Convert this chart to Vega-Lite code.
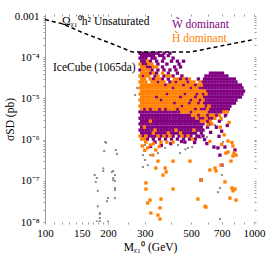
{
"$schema":"https://vega.github.io/schema/vega-lite/v6.json",
"width":209,"height":206,
"autosize":{"type":"none"},
"padding":{"left":45,"top":16,"right":12,"bottom":34},
"background":"white",
"config":{"view":{"stroke":null},"font":"Liberation Serif","axis":{"labelFont":"Liberation Serif","titleFont":"Liberation Serif","labelFontSize":11,"titleFontSize":11.5,"labelColor":"black","titleColor":"black","grid":false,"titleFontWeight":"normal"}},
"resolve":{"axis":{"x":"independent","y":"independent"}},
"datasets":{
"other":[{"m":196,"s":8.4e-7},{"m":192,"s":5.3e-7},{"m":218,"s":5.6e-7},{"m":221,"s":4.5e-7},{"m":173,"s":1.38e-7},{"m":177,"s":1.17e-7},{"m":190,"s":1.73e-7},{"m":212,"s":1.73e-7},{"m":216,"s":1.38e-7},{"m":212,"s":1.17e-7},{"m":216,"s":9.9e-8},{"m":179,"s":5.7e-8},{"m":179,"s":2.4e-8},{"m":183,"s":1.56e-8},{"m":183,"s":1.25e-8},{"m":183,"s":1.05e-8},{"m":198,"s":3.2e-8},{"m":216,"s":6.0e-8},{"m":216,"s":3.8e-8},{"m":177,"s":1.02e-8},{"m":200,"s":1.02e-8},{"m":194,"s":8.7e-7},{"m":190,"s":2.0e-7},{"m":209,"s":1.64e-7},{"m":212,"s":1.05e-7},{"m":216,"s":6.7e-8},{"m":175,"s":9.4e-8},{"m":200,"s":3.8e-8},{"m":183,"s":1.65e-8},{"m":276,"s":1.79e-5},{"m":270,"s":1.21e-5},{"m":301,"s":8.7e-7},{"m":301,"s":7.4e-7},{"m":294,"s":4.2e-7},{"m":318,"s":4.2e-7},{"m":301,"s":3.2e-7},{"m":310,"s":2.4e-7},{"m":294,"s":2.16e-7},{"m":347,"s":4.7e-7},{"m":376,"s":6.3e-7},{"m":310,"s":1.16e-6},{"m":687,"s":6.2e-6},{"m":751,"s":4.68e-6},{"m":726,"s":3.54e-6},{"m":651,"s":2.26e-6},{"m":664,"s":1.91e-6},{"m":595,"s":1.16e-6},{"m":552,"s":1.09e-6},{"m":433,"s":7.4e-7},{"m":483,"s":6.3e-7},{"m":470,"s":5.8e-7},{"m":506,"s":6.6e-7},{"m":442,"s":4.7e-7},{"m":710,"s":8.7e-7},{"m":702,"s":1.38e-7},{"m":687,"s":6.7e-8},{"m":672,"s":5.3e-8},{"m":687,"s":1.18e-8},{"m":740,"s":4.0e-6},{"m":700,"s":3.0e-6}],
"W":[
{"m":285,"s":1.25e-4},{"m":290,"s":1.1e-4},{"m":285,"s":9.5e-5},{"m":290,"s":8e-5},{"m":285,"s":4.9e-5},{"m":285,"s":4.7e-6},{"m":290,"s":3.9e-6},{"m":285,"s":3.3e-6},{"m":290,"s":2.8e-6},{"m":285,"s":2.4e-6},{"m":290,"s":2e-6},{"m":285,"s":1.7e-6},{"m":290,"s":1.44e-6},
{"m":294,"s":1.25e-4},{"m":299,"s":1.1e-4},{"m":294,"s":9.5e-5},{"m":299,"s":8e-5},{"m":294,"s":6.8e-5},{"m":294,"s":3.5e-5},{"m":299,"s":5.5e-6},{"m":294,"s":4.7e-6},{"m":299,"s":3.9e-6},{"m":294,"s":3.3e-6},{"m":299,"s":2.8e-6},{"m":294,"s":2.4e-6},{"m":294,"s":1.7e-6},{"m":299,"s":1.44e-6},{"m":294,"s":1.22e-6},
{"m":304,"s":1.25e-4},{"m":309,"s":1.1e-4},{"m":304,"s":9.5e-5},{"m":304,"s":6.8e-5},{"m":309,"s":5.8e-5},{"m":304,"s":4.7e-6},{"m":309,"s":3.9e-6},{"m":304,"s":3.3e-6},{"m":309,"s":2.8e-6},{"m":304,"s":2.4e-6},{"m":309,"s":2e-6},{"m":304,"s":1.7e-6},{"m":309,"s":1.44e-6},{"m":309,"s":1.03e-6},
{"m":314,"s":1.25e-4},{"m":319,"s":1.1e-4},{"m":319,"s":8e-5},{"m":319,"s":5.8e-5},{"m":319,"s":4.1e-5},{"m":319,"s":5.5e-6},{"m":314,"s":4.7e-6},{"m":319,"s":3.9e-6},{"m":314,"s":3.3e-6},{"m":314,"s":2.4e-6},{"m":319,"s":2e-6},{"m":314,"s":1.7e-6},{"m":319,"s":1.44e-6},{"m":314,"s":1.22e-6},
{"m":325,"s":1.25e-4},{"m":330,"s":1.1e-4},{"m":325,"s":9.5e-5},{"m":325,"s":4.9e-5},{"m":330,"s":2.95e-5},{"m":325,"s":4.7e-6},{"m":330,"s":3.9e-6},{"m":325,"s":3.3e-6},{"m":330,"s":2.8e-6},{"m":325,"s":2.4e-6},{"m":330,"s":2e-6},{"m":325,"s":1.7e-6},{"m":325,"s":1.22e-6},{"m":330,"s":1.03e-6},
{"m":336,"s":1.25e-4},{"m":336,"s":9.5e-5},{"m":342,"s":8e-5},{"m":342,"s":4.1e-5},{"m":336,"s":3.5e-5},{"m":342,"s":1.08e-5},{"m":336,"s":4.7e-6},{"m":342,"s":3.9e-6},{"m":336,"s":3.3e-6},{"m":342,"s":2.8e-6},{"m":336,"s":2.4e-6},{"m":342,"s":2e-6},{"m":342,"s":1.44e-6},{"m":336,"s":1.22e-6},{"m":336,"s":8.7e-7},
{"m":347,"s":1.25e-4},{"m":353,"s":1.1e-4},{"m":347,"s":6.8e-5},{"m":347,"s":4.9e-5},{"m":347,"s":2.5e-5},{"m":353,"s":5.5e-6},{"m":347,"s":4.7e-6},{"m":353,"s":3.9e-6},{"m":347,"s":3.3e-6},{"m":353,"s":2.8e-6},{"m":347,"s":2.4e-6},{"m":353,"s":2e-6},{"m":347,"s":1.7e-6},{"m":353,"s":1.44e-6},{"m":353,"s":1.03e-6},
{"m":365,"s":1.1e-4},{"m":365,"s":8e-5},{"m":365,"s":5.8e-5},{"m":365,"s":2.95e-5},{"m":359,"s":9.1e-6},{"m":359,"s":4.7e-6},{"m":365,"s":3.9e-6},{"m":359,"s":3.3e-6},{"m":365,"s":2.8e-6},{"m":359,"s":2.4e-6},{"m":365,"s":2e-6},{"m":359,"s":1.7e-6},{"m":365,"s":1.44e-6},{"m":359,"s":1.22e-6},
{"m":371,"s":1.25e-4},{"m":371,"s":9.5e-5},{"m":371,"s":4.9e-5},{"m":371,"s":3.5e-5},{"m":377,"s":2.1e-5},{"m":377,"s":5.5e-6},{"m":371,"s":4.7e-6},{"m":377,"s":3.9e-6},{"m":371,"s":3.3e-6},{"m":377,"s":2.8e-6},{"m":371,"s":2.4e-6},{"m":377,"s":2e-6},{"m":371,"s":1.7e-6},{"m":377,"s":1.44e-6},{"m":377,"s":1.03e-6},
{"m":389,"s":1.1e-4},{"m":383,"s":6.8e-5},{"m":389,"s":4.1e-5},{"m":389,"s":2.95e-5},{"m":383,"s":1.28e-5},{"m":383,"s":4.7e-6},{"m":389,"s":3.9e-6},{"m":383,"s":3.3e-6},{"m":389,"s":2.8e-6},{"m":383,"s":2.4e-6},{"m":389,"s":2e-6},{"m":383,"s":1.7e-6},{"m":383,"s":1.22e-6},
{"m":396,"s":1.25e-4},{"m":403,"s":8e-5},{"m":396,"s":4.9e-5},{"m":396,"s":2.5e-5},{"m":396,"s":4.7e-6},{"m":403,"s":3.9e-6},{"m":396,"s":3.3e-6},{"m":403,"s":2.8e-6},{"m":396,"s":2.4e-6},{"m":403,"s":2e-6},{"m":396,"s":1.7e-6},{"m":403,"s":1.44e-6},{"m":403,"s":1.03e-6},
{"m":410,"s":9.5e-5},{"m":417,"s":5.8e-5},{"m":410,"s":3.5e-5},{"m":410,"s":1.8e-5},{"m":417,"s":7.7e-6},{"m":410,"s":4.7e-6},{"m":417,"s":3.9e-6},{"m":410,"s":3.3e-6},{"m":417,"s":2.8e-6},{"m":410,"s":2.4e-6},{"m":417,"s":2e-6},{"m":410,"s":1.7e-6},{"m":417,"s":1.44e-6},{"m":410,"s":1.22e-6},
{"m":430,"s":8e-5},{"m":423,"s":4.9e-5},{"m":430,"s":4.1e-5},{"m":423,"s":2.5e-5},{"m":430,"s":5.5e-6},{"m":423,"s":4.7e-6},{"m":430,"s":3.9e-6},{"m":423,"s":3.3e-6},{"m":430,"s":2.8e-6},{"m":423,"s":2.4e-6},{"m":430,"s":2e-6},{"m":430,"s":1.44e-6},{"m":430,"s":1.03e-6},
{"m":438,"s":6.8e-5},{"m":445,"s":5.8e-5},{"m":445,"s":2.95e-5},{"m":445,"s":1.08e-5},{"m":438,"s":4.7e-6},{"m":445,"s":3.9e-6},{"m":438,"s":3.3e-6},{"m":445,"s":2.8e-6},{"m":438,"s":2.4e-6},{"m":445,"s":2e-6},{"m":438,"s":1.7e-6},{"m":438,"s":1.22e-6},
{"m":460,"s":8e-5},{"m":452,"s":3.5e-5},{"m":460,"s":2.1e-5},{"m":452,"s":6.5e-6},{"m":460,"s":3.9e-6},{"m":452,"s":3.3e-6},{"m":460,"s":2.8e-6},{"m":452,"s":2.4e-6},{"m":460,"s":2e-6},{"m":452,"s":1.7e-6},{"m":460,"s":1.44e-6},{"m":460,"s":1.03e-6},
{"m":475,"s":2.95e-5},{"m":467,"s":1.28e-5},{"m":475,"s":3.9e-6},{"m":467,"s":3.3e-6},{"m":475,"s":2.8e-6},{"m":467,"s":2.4e-6},{"m":475,"s":2e-6},{"m":467,"s":1.7e-6},{"m":475,"s":1.44e-6},{"m":467,"s":1.22e-6},{"m":467,"s":8.7e-7},
{"m":483,"s":2.5e-5},{"m":491,"s":7.7e-6},{"m":491,"s":3.9e-6},{"m":483,"s":3.3e-6},{"m":491,"s":2.8e-6},{"m":483,"s":2.4e-6},{"m":491,"s":2e-6},{"m":483,"s":1.7e-6},{"m":491,"s":1.44e-6},{"m":491,"s":1.03e-6},
{"m":499,"s":1.8e-5},{"m":499,"s":9.1e-6},{"m":499,"s":4.7e-6},{"m":499,"s":3.3e-6},{"m":507,"s":2.8e-6},{"m":499,"s":2.4e-6},{"m":507,"s":2e-6},{"m":499,"s":1.7e-6},{"m":507,"s":1.44e-6},{"m":499,"s":1.22e-6},
{"m":525,"s":2.1e-5},{"m":525,"s":1.08e-5},{"m":525,"s":5.5e-6},{"m":516,"s":3.3e-6},{"m":525,"s":2.8e-6},{"m":516,"s":2.4e-6},{"m":525,"s":2e-6},{"m":525,"s":1.44e-6},{"m":525,"s":1.03e-6},
{"m":542,"s":2.95e-5},{"m":533,"s":1.28e-5},{"m":542,"s":7.7e-6},{"m":542,"s":3.9e-6},{"m":542,"s":2.8e-6},{"m":533,"s":2.4e-6},{"m":542,"s":2e-6},{"m":533,"s":1.7e-6},{"m":533,"s":1.22e-6},
{"m":551,"s":1.8e-5},{"m":551,"s":9.1e-6},{"m":560,"s":5.5e-6},{"m":551,"s":3.3e-6},{"m":551,"s":2.4e-6},{"m":560,"s":2e-6},{"m":551,"s":1.7e-6},{"m":560,"s":1.44e-6},
{"m":580,"s":2.95e-5},{"m":570,"s":2.5e-5},{"m":580,"s":2.1e-5},{"m":570,"s":1.8e-5},{"m":570,"s":1.28e-5},{"m":580,"s":1.08e-5},{"m":580,"s":7.7e-6},{"m":580,"s":5.5e-6},{"m":570,"s":3.3e-6},{"m":570,"s":2.4e-6},{"m":570,"s":1.7e-6},{"m":570,"s":1.22e-6},
{"m":589,"s":3.5e-5},{"m":599,"s":2.95e-5},{"m":589,"s":2.5e-5},{"m":599,"s":2.1e-5},{"m":589,"s":1.8e-5},{"m":599,"s":1.5e-5},{"m":599,"s":1.08e-5},{"m":589,"s":9.1e-6},{"m":599,"s":7.7e-6},{"m":589,"s":6.5e-6},{"m":599,"s":3.9e-6},{"m":599,"s":2.8e-6},{"m":599,"s":2e-6},
{"m":619,"s":4.1e-5},{"m":609,"s":3.5e-5},{"m":619,"s":2.95e-5},{"m":609,"s":2.5e-5},{"m":619,"s":2.1e-5},{"m":609,"s":1.8e-5},{"m":619,"s":1.5e-5},{"m":609,"s":1.28e-5},{"m":619,"s":1.08e-5},{"m":609,"s":9.1e-6},{"m":619,"s":7.7e-6},{"m":619,"s":5.5e-6},{"m":609,"s":4.7e-6},{"m":609,"s":3.3e-6},{"m":609,"s":2.4e-6},
{"m":640,"s":4.1e-5},{"m":629,"s":3.5e-5},{"m":640,"s":2.95e-5},{"m":629,"s":2.5e-5},{"m":640,"s":2.1e-5},{"m":629,"s":1.8e-5},{"m":640,"s":1.5e-5},{"m":629,"s":1.28e-5},{"m":640,"s":1.08e-5},{"m":629,"s":9.1e-6},{"m":640,"s":7.7e-6},{"m":629,"s":6.5e-6},{"m":640,"s":5.5e-6},{"m":629,"s":4.7e-6},{"m":629,"s":3.3e-6},
{"m":661,"s":4.1e-5},{"m":650,"s":3.5e-5},{"m":661,"s":2.95e-5},{"m":650,"s":2.5e-5},{"m":661,"s":2.1e-5},{"m":650,"s":1.8e-5},{"m":661,"s":1.5e-5},{"m":650,"s":1.28e-5},{"m":661,"s":1.08e-5},{"m":650,"s":9.1e-6},{"m":661,"s":7.7e-6},{"m":650,"s":6.5e-6},{"m":661,"s":5.5e-6},{"m":650,"s":4.7e-6},{"m":661,"s":3.9e-6},
{"m":683,"s":4.1e-5},{"m":672,"s":3.5e-5},{"m":683,"s":2.95e-5},{"m":672,"s":2.5e-5},{"m":683,"s":2.1e-5},{"m":672,"s":1.8e-5},{"m":683,"s":1.5e-5},{"m":672,"s":1.28e-5},{"m":683,"s":1.08e-5},{"m":672,"s":9.1e-6},{"m":683,"s":7.7e-6},{"m":672,"s":6.5e-6},{"m":683,"s":5.5e-6},{"m":672,"s":4.7e-6},{"m":683,"s":2.8e-6},
{"m":707,"s":4.1e-5},{"m":695,"s":3.5e-5},{"m":707,"s":2.95e-5},{"m":695,"s":2.5e-5},{"m":707,"s":2.1e-5},{"m":695,"s":1.8e-5},{"m":707,"s":1.5e-5},{"m":695,"s":1.28e-5},{"m":707,"s":1.08e-5},{"m":695,"s":9.1e-6},{"m":707,"s":7.7e-6},{"m":695,"s":6.5e-6},{"m":707,"s":5.5e-6},{"m":695,"s":4.7e-6},
{"m":718,"s":3.5e-5},{"m":730,"s":2.95e-5},{"m":718,"s":2.5e-5},{"m":730,"s":2.1e-5},{"m":718,"s":1.8e-5},{"m":730,"s":1.5e-5},{"m":718,"s":1.28e-5},{"m":730,"s":1.08e-5},{"m":718,"s":9.1e-6},{"m":730,"s":7.7e-6},{"m":718,"s":6.5e-6},{"m":730,"s":5.5e-6},{"m":730,"s":3.9e-6},
{"m":742,"s":3.5e-5},{"m":754,"s":2.95e-5},{"m":742,"s":2.5e-5},{"m":754,"s":2.1e-5},{"m":742,"s":1.8e-5},{"m":754,"s":1.5e-5},{"m":742,"s":1.28e-5},{"m":754,"s":1.08e-5},{"m":742,"s":9.1e-6},{"m":754,"s":7.7e-6},{"m":742,"s":6.5e-6},{"m":754,"s":5.5e-6},
{"m":780,"s":2.95e-5},{"m":767,"s":2.5e-5},{"m":780,"s":2.1e-5},{"m":767,"s":1.8e-5},{"m":780,"s":1.5e-5},{"m":767,"s":1.28e-5},{"m":780,"s":1.08e-5},{"m":767,"s":9.1e-6},{"m":780,"s":7.7e-6},{"m":767,"s":6.5e-6},
{"m":806,"s":2.95e-5},{"m":793,"s":2.5e-5},{"m":806,"s":2.1e-5},{"m":793,"s":1.8e-5},{"m":806,"s":1.5e-5},{"m":793,"s":1.28e-5},{"m":806,"s":1.08e-5},{"m":793,"s":9.1e-6},{"m":806,"s":7.7e-6},
{"m":820,"s":2.5e-5},{"m":834,"s":2.1e-5},{"m":820,"s":1.8e-5},{"m":834,"s":1.5e-5},{"m":820,"s":1.28e-5},{"m":834,"s":1.08e-5},{"m":820,"s":9.1e-6},
{"m":861,"s":2.1e-5},{"m":847,"s":1.8e-5},{"m":861,"s":1.5e-5},{"m":847,"s":1.28e-5},{"m":861,"s":1.08e-5},
{"m":876,"s":1.8e-5},{"m":891,"s":1.5e-5},{"m":876,"s":1.28e-5},
{"m":687,"s":4.2e-7},{"m":702,"s":2.4e-7},{"m":643,"s":6.6e-7},{"m":672,"s":6.3e-7},{"m":726,"s":6.6e-7},{"m":811,"s":5.6e-7},{"m":558,"s":1.05e-7},{"m":595,"s":8e-7},{"m":660,"s":2.0e-6},{"m":700,"s":1.6e-6},{"m":745,"s":2.2e-6},{"m":620,"s":1.5e-6},{"m":680,"s":1.2e-6},{"m":580,"s":1.0e-6},{"m":545,"s":1.2e-6},{"m":520,"s":8.5e-7},{"m":320,"s":6.8e-7},{"m":360,"s":7.2e-7},{"m":400,"s":8.0e-7},{"m":450,"s":9.0e-7}
],
"H":[
{"m":285,"s":6.8e-5},{"m":290,"s":5.8e-5},{"m":290,"s":4.1e-5},{"m":285,"s":3.5e-5},{"m":290,"s":2.95e-5},{"m":285,"s":2.5e-5},{"m":290,"s":2.1e-5},{"m":285,"s":1.8e-5},{"m":290,"s":1.5e-5},{"m":285,"s":1.28e-5},{"m":290,"s":1.08e-5},{"m":285,"s":9.1e-6},{"m":290,"s":7.7e-6},{"m":285,"s":6.5e-6},{"m":290,"s":5.5e-6},{"m":285,"s":1.22e-6},{"m":290,"s":1.03e-6},
{"m":299,"s":5.8e-5},{"m":294,"s":4.9e-5},{"m":299,"s":4.1e-5},{"m":299,"s":2.95e-5},{"m":294,"s":2.5e-5},{"m":299,"s":2.1e-5},{"m":294,"s":1.8e-5},{"m":299,"s":1.5e-5},{"m":294,"s":1.28e-5},{"m":299,"s":1.08e-5},{"m":294,"s":9.1e-6},{"m":299,"s":7.7e-6},{"m":294,"s":6.5e-6},{"m":299,"s":2e-6},{"m":299,"s":1.03e-6},
{"m":309,"s":8e-5},{"m":304,"s":4.9e-5},{"m":309,"s":4.1e-5},{"m":304,"s":3.5e-5},{"m":304,"s":2.5e-5},{"m":309,"s":2.1e-5},{"m":304,"s":1.8e-5},{"m":309,"s":1.5e-5},{"m":304,"s":1.28e-5},{"m":309,"s":1.08e-5},{"m":304,"s":9.1e-6},{"m":309,"s":7.7e-6},{"m":304,"s":6.5e-6},{"m":309,"s":5.5e-6},{"m":304,"s":1.22e-6},{"m":304,"s":8.7e-7},
{"m":314,"s":6.8e-5},{"m":314,"s":4.9e-5},{"m":314,"s":3.5e-5},{"m":319,"s":2.95e-5},{"m":319,"s":2.1e-5},{"m":314,"s":1.8e-5},{"m":319,"s":1.5e-5},{"m":314,"s":1.28e-5},{"m":319,"s":1.08e-5},{"m":314,"s":9.1e-6},{"m":319,"s":7.7e-6},{"m":314,"s":6.5e-6},{"m":319,"s":2.8e-6},{"m":319,"s":7.4e-7},
{"m":325,"s":6.8e-5},{"m":330,"s":5.8e-5},{"m":330,"s":4.1e-5},{"m":325,"s":2.5e-5},{"m":330,"s":2.1e-5},{"m":325,"s":1.8e-5},{"m":330,"s":1.5e-5},{"m":325,"s":1.28e-5},{"m":330,"s":1.08e-5},{"m":325,"s":9.1e-6},{"m":330,"s":7.7e-6},{"m":325,"s":6.5e-6},{"m":330,"s":5.5e-6},{"m":330,"s":1.44e-6},
{"m":342,"s":5.8e-5},{"m":342,"s":2.95e-5},{"m":336,"s":2.5e-5},{"m":342,"s":2.1e-5},{"m":336,"s":1.8e-5},{"m":342,"s":1.5e-5},{"m":336,"s":1.28e-5},{"m":336,"s":9.1e-6},{"m":342,"s":7.7e-6},{"m":336,"s":6.5e-6},{"m":342,"s":5.5e-6},{"m":336,"s":1.7e-6},
{"m":347,"s":3.5e-5},{"m":353,"s":2.95e-5},{"m":353,"s":2.1e-5},{"m":347,"s":1.8e-5},{"m":353,"s":1.5e-5},{"m":347,"s":1.28e-5},{"m":353,"s":1.08e-5},{"m":347,"s":9.1e-6},{"m":353,"s":7.7e-6},{"m":347,"s":6.5e-6},{"m":347,"s":1.22e-6},
{"m":365,"s":4.1e-5},{"m":359,"s":2.5e-5},{"m":365,"s":2.1e-5},{"m":359,"s":1.8e-5},{"m":365,"s":1.5e-5},{"m":359,"s":1.28e-5},{"m":365,"s":1.08e-5},{"m":365,"s":7.7e-6},{"m":359,"s":6.5e-6},{"m":365,"s":5.5e-6},{"m":359,"s":8.7e-7},
{"m":371,"s":2.5e-5},{"m":371,"s":1.8e-5},{"m":377,"s":1.5e-5},{"m":371,"s":1.28e-5},{"m":377,"s":1.08e-5},{"m":371,"s":9.1e-6},{"m":377,"s":7.7e-6},{"m":371,"s":6.5e-6},{"m":371,"s":1.22e-6},
{"m":383,"s":3.5e-5},{"m":389,"s":2.1e-5},{"m":383,"s":1.8e-5},{"m":389,"s":1.5e-5},{"m":389,"s":1.08e-5},{"m":383,"s":9.1e-6},{"m":389,"s":7.7e-6},{"m":383,"s":6.5e-6},{"m":389,"s":5.5e-6},{"m":389,"s":1.44e-6},{"m":383,"s":8.7e-7},
{"m":396,"s":3.5e-5},{"m":403,"s":2.1e-5},{"m":396,"s":1.8e-5},{"m":403,"s":1.5e-5},{"m":396,"s":1.28e-5},{"m":403,"s":1.08e-5},{"m":396,"s":9.1e-6},{"m":403,"s":7.7e-6},{"m":396,"s":6.5e-6},{"m":403,"s":5.5e-6},{"m":396,"s":1.22e-6},
{"m":417,"s":2.95e-5},{"m":410,"s":2.5e-5},{"m":417,"s":2.1e-5},{"m":417,"s":1.5e-5},{"m":410,"s":1.28e-5},{"m":417,"s":1.08e-5},{"m":410,"s":9.1e-6},{"m":410,"s":6.5e-6},{"m":417,"s":5.5e-6},{"m":410,"s":8.7e-7},
{"m":430,"s":2.95e-5},{"m":430,"s":2.1e-5},{"m":423,"s":1.8e-5},{"m":430,"s":1.5e-5},{"m":423,"s":1.28e-5},{"m":430,"s":1.08e-5},{"m":423,"s":9.1e-6},{"m":430,"s":7.7e-6},{"m":423,"s":6.5e-6},{"m":423,"s":1.7e-6},
{"m":438,"s":2.5e-5},{"m":445,"s":2.1e-5},{"m":438,"s":1.8e-5},{"m":445,"s":1.5e-5},{"m":438,"s":1.28e-5},{"m":438,"s":9.1e-6},{"m":445,"s":7.7e-6},{"m":438,"s":6.5e-6},{"m":445,"s":5.5e-6},{"m":445,"s":1.44e-6},
{"m":460,"s":2.95e-5},{"m":452,"s":2.5e-5},{"m":452,"s":1.8e-5},{"m":460,"s":1.5e-5},{"m":452,"s":1.28e-5},{"m":460,"s":1.08e-5},{"m":452,"s":9.1e-6},{"m":460,"s":7.7e-6},{"m":460,"s":5.5e-6},{"m":452,"s":4.7e-6},{"m":452,"s":1.22e-6},
{"m":467,"s":2.5e-5},{"m":475,"s":2.1e-5},{"m":467,"s":1.8e-5},{"m":475,"s":1.5e-5},{"m":475,"s":1.08e-5},{"m":467,"s":9.1e-6},{"m":475,"s":7.7e-6},{"m":467,"s":6.5e-6},{"m":475,"s":5.5e-6},{"m":467,"s":4.7e-6},
{"m":491,"s":2.95e-5},{"m":491,"s":2.1e-5},{"m":483,"s":1.8e-5},{"m":491,"s":1.5e-5},{"m":483,"s":1.28e-5},{"m":491,"s":1.08e-5},{"m":483,"s":9.1e-6},{"m":483,"s":6.5e-6},{"m":491,"s":5.5e-6},{"m":483,"s":4.7e-6},{"m":483,"s":1.22e-6},
{"m":499,"s":2.5e-5},{"m":507,"s":2.1e-5},{"m":507,"s":1.5e-5},{"m":499,"s":1.28e-5},{"m":507,"s":1.08e-5},{"m":507,"s":7.7e-6},{"m":499,"s":6.5e-6},{"m":507,"s":5.5e-6},{"m":507,"s":3.9e-6},{"m":507,"s":1.03e-6},
{"m":516,"s":2.5e-5},{"m":516,"s":1.8e-5},{"m":525,"s":1.5e-5},{"m":516,"s":1.28e-5},{"m":516,"s":9.1e-6},{"m":525,"s":7.7e-6},{"m":516,"s":6.5e-6},{"m":516,"s":4.7e-6},{"m":525,"s":3.9e-6},{"m":516,"s":1.7e-6},
{"m":542,"s":2.1e-5},{"m":533,"s":1.8e-5},{"m":542,"s":1.5e-5},{"m":542,"s":1.08e-5},{"m":533,"s":9.1e-6},{"m":533,"s":6.5e-6},{"m":542,"s":5.5e-6},{"m":533,"s":4.7e-6},{"m":533,"s":3.3e-6},
{"m":551,"s":2.5e-5},{"m":560,"s":2.1e-5},{"m":560,"s":1.5e-5},{"m":551,"s":1.28e-5},{"m":560,"s":1.08e-5},{"m":560,"s":7.7e-6},{"m":551,"s":6.5e-6},{"m":551,"s":4.7e-6},{"m":560,"s":3.9e-6},{"m":560,"s":2.8e-6},
{"m":580,"s":1.5e-5},{"m":570,"s":9.1e-6},{"m":570,"s":6.5e-6},{"m":570,"s":4.7e-6},{"m":580,"s":3.9e-6},{"m":580,"s":2.8e-6},
{"m":589,"s":1.28e-5},{"m":599,"s":5.5e-6},{"m":589,"s":4.7e-6},{"m":589,"s":3.3e-6},
{"m":609,"s":6.5e-6},{"m":619,"s":3.9e-6},{"m":619,"s":2.8e-6},
{"m":640,"s":3.9e-6},{"m":629,"s":2.4e-6},{"m":650,"s":3.3e-6},{"m":683,"s":3.9e-6},{"m":695,"s":3.3e-6},{"m":718,"s":4.7e-6},{"m":742,"s":4.7e-6},
{"m":310,"s":6.3e-7},{"m":339,"s":5.6e-7},{"m":328,"s":4.2e-7},{"m":347,"s":3.0e-7},{"m":339,"s":2.04e-7},{"m":376,"s":2.04e-7},{"m":380,"s":1.64e-7},{"m":410,"s":3.0e-7},{"m":367,"s":1.38e-7},{"m":304,"s":8.9e-8},{"m":304,"s":6.3e-8},{"m":410,"s":6.3e-8},{"m":359,"s":3.6e-8},{"m":318,"s":3.4e-8},{"m":310,"s":2.9e-8},{"m":355,"s":2.2e-8},{"m":321,"s":1.65e-8},{"m":355,"s":1.18e-8},{"m":347,"s":1.47e-8},{"m":494,"s":3.0e-7},{"m":558,"s":1.05e-7},{"m":539,"s":3.6e-8},{"m":583,"s":2.4e-8},{"m":615,"s":1.83e-7},{"m":651,"s":2.04e-7},{"m":658,"s":1.73e-7},{"m":695,"s":2.4e-7},{"m":734,"s":4.7e-7},{"m":776,"s":3.0e-7},{"m":793,"s":4.0e-7},{"m":784,"s":6.7e-8},{"m":793,"s":5.7e-8},{"m":811,"s":6.3e-8},{"m":820,"s":3.4e-8},{"m":767,"s":3.8e-8},{"m":793,"s":7.0e-7},{"m":751,"s":9.2e-7},{"m":589,"s":2.3e-8},{"m":726,"s":9.4e-8},{"m":802,"s":4.7e-7},{"m":820,"s":4.2e-7},{"m":751,"s":5.0e-7},{"m":292,"s":7.0e-7},{"m":330,"s":8.0e-7},{"m":352,"s":6.8e-7},{"m":300,"s":5.5e-7},{"m":600,"s":2.3e-6},{"m":690,"s":2.0e-6},{"m":760,"s":2.6e-6},{"m":720,"s":1.3e-6},{"m":615,"s":9.0e-7},{"m":700,"s":7.6e-7},{"m":785,"s":8.5e-7}
],
"limit":[{"m":100,"s":8.2e-4},{"m":122,"s":6.4e-4},{"m":152,"s":3.9e-4},{"m":205,"s":2.2e-4},{"m":261,"s":1.34e-4},{"m":500,"s":1.34e-4},{"m":1000,"s":2.7e-4}],
"lab_omega":[{"m":120.6,"s":7.15e-4,"label":"Ωᵪ₁⁰h² Unsaturated"}],
"lab_ice":[{"m":109.2,"s":5.5e-5,"label":"IceCube (1065da)"}],
"lab_w":[{"m":405,"s":6.0e-4,"label":"W̃ dominant"}],
"lab_h":[{"m":405,"s":2.7e-4,"label":"H̃ dominant"}]
},
"layer":[
{"data":{"name":"other"},
 "mark":{"type":"square","size":4,"color":"#8a8a8a","opacity":1,"clip":true},
 "encoding":{
  "x":{"field":"m","type":"quantitative","scale":{"type":"log","domain":[100,1000],"nice":false},
   "axis":{"orient":"bottom","values":[100,110,120,130,140,150,160,170,180,190,200,250,300,400,500,600,700,800,900,1000],"format":"d","labelExpr":"indexof([100,150,200,300,500,700,1000], datum.value) >= 0 ? datum.label : ''","labelOverlap":false,"labelFlush":false,"domain":false,"tickSize":2,"tickColor":"#999999","labelPadding":3,"title":"Mᵪ₁⁰ (GeV)","titleX":105,"titleY":25,"titleAlign":"center","titleBaseline":"middle"}},
  "y":{"field":"s","type":"quantitative","scale":{"type":"log","domain":[1e-8,1e-3],"nice":false},
   "axis":{"orient":"left","values":[1e-8,2e-8,3e-8,4e-8,5e-8,6e-8,7e-8,8e-8,9e-8,1e-7,2e-7,3e-7,4e-7,5e-7,6e-7,7e-7,8e-7,9e-7,1e-6,2e-6,3e-6,4e-6,5e-6,6e-6,7e-6,8e-6,9e-6,1e-5,2e-5,3e-5,4e-5,5e-5,6e-5,7e-5,8e-5,9e-5,1e-4,2e-4,3e-4,4e-4,5e-4,6e-4,7e-4,8e-4,9e-4,1e-3],"labelExpr":"datum.value == 1e-3 ? '0.001' : datum.value == 1e-4 ? '10⁻⁴' : datum.value == 1e-5 ? '10⁻⁵' : datum.value == 1e-6 ? '10⁻⁶' : datum.value == 1e-7 ? '10⁻⁷' : datum.value == 1e-8 ? '10⁻⁸' : ''","labelOverlap":false,"labelFlush":false,"domain":true,"domainColor":"#999999","domainWidth":1,"tickSize":2,"tickColor":"#999999","labelPadding":4,"title":"σSD (pb)","titleX":-35,"titleY":103,"titleAngle":270,"titleAlign":"center","titleBaseline":"middle"}}
 }},
{"data":{"name":"W"},
 "mark":{"type":"square","size":11,"color":"#800080","opacity":1,"clip":true},
 "encoding":{
  "x":{"field":"m","type":"quantitative","scale":{"type":"log","domain":[100,1000],"nice":false},"axis":null},
  "y":{"field":"s","type":"quantitative","scale":{"type":"log","domain":[1e-8,1e-3],"nice":false},"axis":null}}},
{"data":{"name":"H"},
 "mark":{"type":"square","size":11,"color":"#ff8000","opacity":1,"clip":true},
 "encoding":{
  "x":{"field":"m","type":"quantitative","scale":{"type":"log","domain":[100,1000],"nice":false},"axis":null},
  "y":{"field":"s","type":"quantitative","scale":{"type":"log","domain":[1e-8,1e-3],"nice":false},"axis":null}}},
{"data":{"name":"limit"},
 "mark":{"type":"line","color":"black","strokeWidth":1.5,"strokeDash":[4,3],"clip":true},
 "encoding":{
  "x":{"field":"m","type":"quantitative","scale":{"type":"log","domain":[100,1000],"nice":false},
   "axis":{"orient":"top","values":[100,110,120,130,140,150,160,170,180,190,200,250,300,400,500,600,700,800,900,1000],"labels":false,"domain":false,"tickSize":2,"tickColor":"#999999","title":null}},
  "y":{"field":"s","type":"quantitative","scale":{"type":"log","domain":[1e-8,1e-3],"nice":false},
   "axis":{"orient":"right","values":[1e-8,2e-8,3e-8,4e-8,5e-8,6e-8,7e-8,8e-8,9e-8,1e-7,2e-7,3e-7,4e-7,5e-7,6e-7,7e-7,8e-7,9e-7,1e-6,2e-6,3e-6,4e-6,5e-6,6e-6,7e-6,8e-6,9e-6,1e-5,2e-5,3e-5,4e-5,5e-5,6e-5,7e-5,8e-5,9e-5,1e-4,2e-4,3e-4,4e-4,5e-4,6e-4,7e-4,8e-4,9e-4,1e-3],"labels":false,"domain":false,"tickSize":2,"tickColor":"#999999","title":null}}}},
{"data":{"name":"lab_omega"},
 "mark":{"type":"text","align":"left","baseline":"middle","font":"Liberation Serif","fontSize":11.5,"color":"black"},
 "encoding":{"x":{"field":"m","type":"quantitative","scale":{"type":"log","domain":[100,1000],"nice":false},"axis":null},"y":{"field":"s","type":"quantitative","scale":{"type":"log","domain":[1e-8,1e-3],"nice":false},"axis":null},"text":{"field":"label"}}},
{"data":{"name":"lab_ice"},
 "mark":{"type":"text","align":"left","baseline":"middle","font":"Liberation Serif","fontSize":11.5,"color":"black"},
 "encoding":{"x":{"field":"m","type":"quantitative","scale":{"type":"log","domain":[100,1000],"nice":false},"axis":null},"y":{"field":"s","type":"quantitative","scale":{"type":"log","domain":[1e-8,1e-3],"nice":false},"axis":null},"text":{"field":"label"}}},
{"data":{"name":"lab_w"},
 "mark":{"type":"text","align":"left","baseline":"middle","font":"Liberation Serif","fontSize":11.5,"color":"#800080"},
 "encoding":{"x":{"field":"m","type":"quantitative","scale":{"type":"log","domain":[100,1000],"nice":false},"axis":null},"y":{"field":"s","type":"quantitative","scale":{"type":"log","domain":[1e-8,1e-3],"nice":false},"axis":null},"text":{"field":"label"}}},
{"data":{"name":"lab_h"},
 "mark":{"type":"text","align":"left","baseline":"middle","font":"Liberation Serif","fontSize":11.5,"color":"#ff8000"},
 "encoding":{"x":{"field":"m","type":"quantitative","scale":{"type":"log","domain":[100,1000],"nice":false},"axis":null},"y":{"field":"s","type":"quantitative","scale":{"type":"log","domain":[1e-8,1e-3],"nice":false},"axis":null},"text":{"field":"label"}}}
]
}
